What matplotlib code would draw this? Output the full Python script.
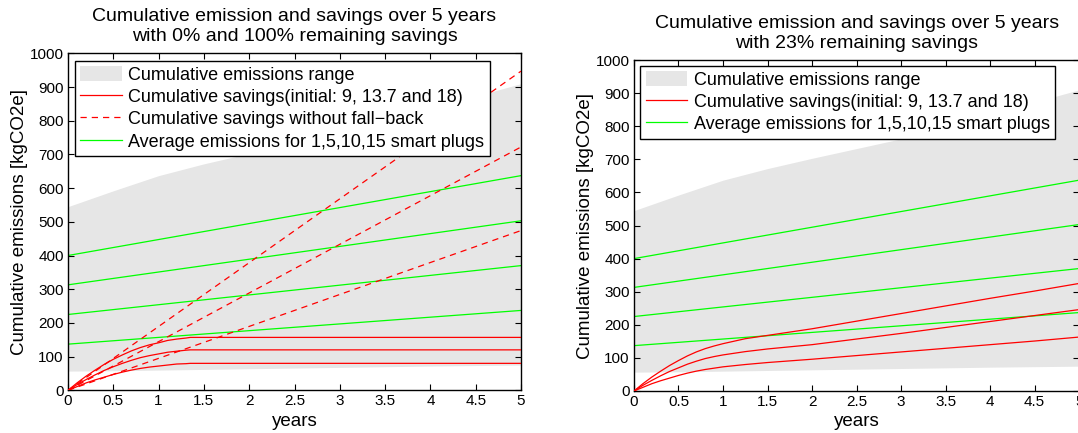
import matplotlib
matplotlib.use("Agg")
import matplotlib.pyplot as plt
from matplotlib.patches import Patch
from matplotlib.lines import Line2D

plt.rcParams['font.family'] = ['Liberation Sans', 'DejaVu Sans']

# Emissions range envelope (kgCO2e) over the years
range_years = [0, 0.5, 1.0, 1.5, 2.0, 3.0, 4.0, 5.0]
range_low = [57, 58, 60, 62, 64, 68, 72, 75]
range_high = [545, 592, 637, 672, 703, 762, 836, 910]

# Average emissions for 1, 5, 10, 15 smart plugs (straight lines, start and end)
plug_years = [0, 5]
plugs_1 = [137, 237]
plugs_5 = [225, 370]
plugs_10 = [313, 503]
plugs_15 = [400, 637]

# Cumulative savings, 0% remaining savings after fall-back
sav0_years = [0, 0.1, 0.2, 0.3, 0.4, 0.5, 0.6, 0.7, 0.8, 0.9, 1.0, 1.1, 1.2, 1.3, 1.35, 5.0]
sav0_18 = [0, 22, 42, 60, 77, 92, 105, 117, 127, 135, 141, 148, 152, 155, 157, 157]
sav0_137 = [0, 17, 32, 46, 59, 70, 80, 89, 97, 103, 108, 113, 116, 119, 120, 120]
sav0_9 = [0, 11, 22, 31, 39, 47, 54, 60, 65, 69, 72, 75, 78, 79, 80, 80]

# Cumulative savings without fall-back (straight lines)
nofb_years = [0, 5]
nofb_18 = [0, 947]
nofb_137 = [0, 722]
nofb_9 = [0, 474]

# Cumulative savings, 23% remaining savings
sav23_years = [0, 0.1, 0.2, 0.3, 0.4, 0.5, 0.6, 0.7, 0.8, 0.9, 1.0, 1.25,
               1.5, 2.0, 2.5, 3.0, 3.5, 4.0, 4.5, 5.0]
sav23_18 = [0, 22, 42, 60, 77, 92, 106, 118, 128, 136, 143, 158,
            168, 188, 211, 234, 257, 280, 302, 325]
sav23_137 = [0, 17, 32, 46, 59, 70, 81, 90, 98, 104, 109, 119,
             127, 140, 157, 174, 192, 210, 228, 246]
sav23_9 = [0, 11, 22, 31, 39, 47, 54, 60, 65, 69, 73, 80,
           86, 96, 107, 118, 129, 140, 151, 163]

x_ticks = [0, 0.5, 1, 1.5, 2, 2.5, 3, 3.5, 4, 4.5, 5]
x_ticklabels = ['0', '0.5', '1', '1.5', '2', '2.5', '3', '3.5', '4', '4.5', '5']
y_ticks = list(range(0, 1001, 100))

GRAY = '#e6e6e6'
RED = '#ff0000'
GREEN = '#00ff00'

fig = plt.figure(figsize=(10.78, 4.33), dpi=100)
ax1 = fig.add_axes([0.0631, 0.0986, 0.4202, 0.7783])
ax2 = fig.add_axes([0.5881, 0.0970, 0.4130, 0.7644])


def style_axes(ax, title):
    ax.set_xlim(0, 5)
    ax.set_ylim(0, 1000)
    ax.set_xticks(x_ticks)
    ax.set_xticklabels(x_ticklabels)
    ax.set_yticks(y_ticks)
    ax.tick_params(direction='in', top=True, right=True, length=4, width=0.8,
                   labelsize=11, pad=3)
    for s in ax.spines.values():
        s.set_linewidth(1.0)
    ax.set_xlabel('years', fontsize=13.5, labelpad=3)
    ax.set_ylabel('Cumulative emissions [kgCO2e]', fontsize=13.5, labelpad=1)
    ax.set_title(title, fontsize=14, pad=9, linespacing=1.2)


def draw_common(ax):
    ax.fill_between(range_years, range_low, range_high, color=GRAY, lw=0, zorder=1)
    for vals in (plugs_1, plugs_5, plugs_10, plugs_15):
        ax.plot(plug_years, vals, color=GREEN, lw=0.9, zorder=2)


# Left panel: 0% and 100% remaining savings
draw_common(ax1)
for vals in (sav0_18, sav0_137, sav0_9):
    ax1.plot(sav0_years, vals, color=RED, lw=0.9, zorder=3)
for vals in (nofb_18, nofb_137, nofb_9):
    ax1.plot(nofb_years, vals, color=RED, lw=0.9, ls=(0, (5, 4)), zorder=3)
style_axes(ax1, 'Cumulative emission and savings over 5 years\nwith 0% and 100% remaining savings')

# Right panel: 23% remaining savings
draw_common(ax2)
for vals in (sav23_18, sav23_137, sav23_9):
    ax2.plot(sav23_years, vals, color=RED, lw=0.9, zorder=3)
style_axes(ax2, 'Cumulative emission and savings over 5 years\nwith 23% remaining savings')

h_range = Patch(facecolor=GRAY, edgecolor='none')
h_sav = Line2D([], [], color=RED, lw=0.9)
h_nofb = Line2D([], [], color=RED, lw=0.9, ls=(0, (5, 4)))
h_avg = Line2D([], [], color=GREEN, lw=0.9)

leg_kw = dict(loc='upper left', fontsize=13, frameon=True, fancybox=False,
              framealpha=1, edgecolor='black', borderaxespad=0,
              handlelength=2.3, handletextpad=0.35, borderpad=0.3,
              labelspacing=0.25, handleheight=0.9)

leg1 = ax1.legend([h_range, h_sav, h_nofb, h_avg],
                  ['Cumulative emissions range',
                   'Cumulative savings(initial: 9, 13.7 and 18)',
                   'Cumulative savings without fall\u2212back',
                   'Average emissions for 1,5,10,15 smart plugs'],
                  bbox_to_anchor=(0.0155, 0.978), **leg_kw)
leg1.get_frame().set_linewidth(1.0)

leg2 = ax2.legend([h_range, h_sav, h_avg],
                  ['Cumulative emissions range',
                   'Cumulative savings(initial: 9, 13.7 and 18)',
                   'Average emissions for 1,5,10,15 smart plugs'],
                  bbox_to_anchor=(0.0144, 0.983), **leg_kw)
leg2.get_frame().set_linewidth(1.0)

fig.savefig('out.png', dpi=100)
